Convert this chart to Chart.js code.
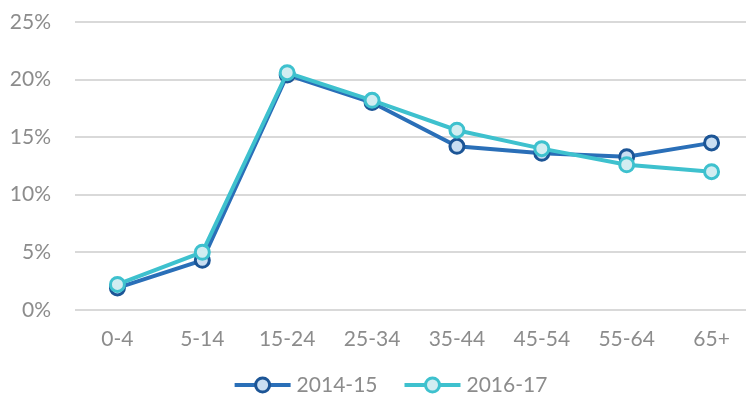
<!DOCTYPE html>
<html>
<head>
<meta charset="utf-8">
<script src="https://cdn.jsdelivr.net/npm/chart.js@4/dist/chart.umd.min.js"></script>
<style>
  html, body { margin: 0; padding: 0; background: #ffffff; overflow: hidden; }
  #ageChart { display: block; }
</style>
</head>
<body>
<canvas id="ageChart" width="764" height="408"></canvas>
<script>
const ageGroups = ['0-4', '5-14', '15-24', '25-34', '35-44', '45-54', '55-64', '65+'];
const share201415 = [1.9, 4.3, 20.4, 18.0, 14.2, 13.6, 13.3, 14.5];
const share201617 = [2.2, 5.0, 20.6, 18.2, 15.6, 14.0, 12.6, 12.0];
const yTicks = [0, 5, 10, 15, 20, 25];

const FONT = { family: 'Lato', size: 21 };
const GREY = '#8c8c8c';

const ctx = document.getElementById('ageChart').getContext('2d');

new Chart(ctx, {
    type: 'line',
    data: {
        labels: ageGroups,
        datasets: [{
            label: '2014-15',
            data: share201415,
            order: 2,
            borderColor: '#2a6fb8',
            borderWidth: 4,
            pointRadius: 7,
            pointHoverRadius: 7,
            pointBorderWidth: 3,
            pointBorderColor: '#1c5596',
            pointBackgroundColor: '#c9def2',
            tension: 0
        }, {
            label: '2016-17',
            data: share201617,
            order: 1,
            borderColor: '#3ec1ce',
            borderWidth: 4,
            pointRadius: 7,
            pointHoverRadius: 7,
            pointBorderWidth: 3,
            pointBorderColor: '#3ec1ce',
            pointBackgroundColor: '#d2edf1',
            tension: 0
        }]
    },
    options: {
        responsive: false,
        animation: false,
        // bottom padding leaves room for the hand drawn legend
        layout: { padding: { left: 0, right: 1, top: 22, bottom: 39 } },
        plugins: {
            legend: { display: false },
            tooltip: { enabled: false }
        },
        scales: {
            x: {
                offset: true,
                afterFit(axis) {
                    axis.paddingLeft = 0;
                    axis.paddingRight = 0;
                },
                grid: { display: false, drawTicks: false },
                border: { display: false },
                ticks: { color: GREY, font: FONT, padding: 17, maxRotation: 0 }
            },
            y: {
                min: 0,
                max: 25,
                afterBuildTicks(axis) { axis.ticks = yTicks.map(v => ({ value: v })); },
                afterFit(axis) {
                    axis.width = 75;
                    // tick padding would otherwise also pad top/bottom
                    axis.paddingTop = 0;
                    axis.paddingBottom = 0;
                },
                grid: { color: '#d9d9d9', lineWidth: 2, drawTicks: false },
                border: { display: false },
                ticks: {
                    color: GREY,
                    font: FONT,
                    padding: 24,
                    callback: v => v + '%'
                }
            }
        }
    },
    plugins: [{
        // legend: line + marker swatch followed by the series name
        id: 'lineLegend',
        afterDraw(chart) {
            const c = chart.ctx;
            const sets = chart.data.datasets;
            const lineLen = 56, gap = 6, spacing = 27;
            c.save();
            c.font = FONT.size + 'px ' + FONT.family;
            const widths = sets.map(ds => lineLen + gap + c.measureText(ds.label).width);
            const total = widths.reduce((a, b) => a + b, 0) + spacing * (sets.length - 1);
            let x = 391 - total / 2;
            const cy = 385;
            sets.forEach((ds, i) => {
                c.strokeStyle = ds.borderColor;
                c.lineWidth = 4;
                c.beginPath();
                c.moveTo(x, cy);
                c.lineTo(x + lineLen, cy);
                c.stroke();
                c.beginPath();
                c.arc(x + lineLen / 2, cy, 7, 0, Math.PI * 2);
                c.fillStyle = ds.pointBackgroundColor;
                c.fill();
                c.lineWidth = 3;
                c.strokeStyle = ds.pointBorderColor;
                c.stroke();
                c.fillStyle = GREY;
                c.textBaseline = 'middle';
                c.textAlign = 'left';
                c.fillText(ds.label, x + lineLen + gap, cy);
                x += widths[i] + spacing;
            });
            c.restore();
        }
    }]
});
</script>
</body>
</html>
